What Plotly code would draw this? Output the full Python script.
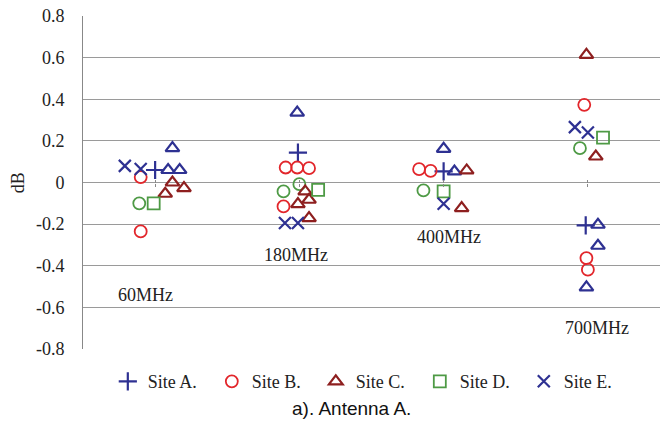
import plotly.graph_objects as go

# Category positions: 1=60MHz, 2=180MHz, 3=400MHz, 4=700MHz (x values include in-group jitter)
freq_labels = ["60MHz", "180MHz", "400MHz", "700MHz"]
freq_label_x = [0.93, 1.98, 3.04, 4.06]
freq_label_y = [-0.54, -0.35, -0.26, -0.70]

site_a_x = [1.00, 1.99, 3.00, 3.985]
site_a_y = [0.06, 0.144, 0.053, -0.206]

site_b_x = [0.90, 0.90, 1.905, 1.985, 2.067, 1.89, 2.83, 2.91, 3.975, 3.99, 4.00]
site_b_y = [0.026, -0.235, 0.072, 0.072, 0.069, -0.115, 0.064, 0.056, 0.373, -0.363, -0.419]

site_c_x = [1.12, 1.20, 1.07, 2.04, 2.067, 1.99, 2.067, 3.16, 3.125, 3.99, 4.055]
site_c_y = [0.0, -0.027, -0.054, -0.043, -0.083, -0.104, -0.171, 0.058, -0.123, 0.613, 0.125]

site_d_x = [0.99, 2.13, 3.00, 4.105]
site_d_y = [-0.10, -0.035, -0.043, 0.216]

site_e_x = [0.79, 0.90, 1.90, 1.99, 3.00, 3.91, 4.00]
site_e_y = [0.08, 0.065, -0.195, -0.195, -0.102, 0.266, 0.24]

# extra series shown without legend entries
blue_tri_x = [1.12, 1.09, 1.17, 1.985, 3.00, 3.075, 4.07, 4.07, 3.99]
blue_tri_y = [0.165, 0.06, 0.06, 0.336, 0.162, 0.053, -0.203, -0.304, -0.504]

green_circ_x = [0.89, 2.00, 1.89, 2.86, 3.945]
green_circ_y = [-0.10, -0.008, -0.043, -0.038, 0.165]

y_tickvals = [-0.8, -0.6, -0.4, -0.2, 0, 0.2, 0.4, 0.6, 0.8]
y_ticktext = ["-0.8", "-0.6", "-0.4", "-0.2", "0", "0.2", "0.4", "0.6", "0.8"]

BLUE = "#2E3192"
RED = "#E2262B"
DRED = "#8E1F1F"
GREEN = "#4E9A45"

serif = "Liberation Serif"

fig = go.Figure()

def add(x, y, name, symbol, color, size=12, lw=1.6, show=True):
    fig.add_trace(go.Scatter(
        x=x, y=y, mode="markers", name=name, showlegend=show,
        marker=dict(symbol=symbol, size=size, color=color,
                    line=dict(color=color, width=lw)),
    ))

add(blue_tri_x, blue_tri_y, "tri", "triangle-up-open", BLUE, size=12, lw=2.2, show=False)
add(green_circ_x, green_circ_y, "gc", "circle-open", GREEN, size=12, lw=1.8, show=False)
add(site_a_x, site_a_y, "Site A.", "cross-thin-open", BLUE, size=13, lw=2.2)
add(site_b_x, site_b_y, "Site B.", "circle-open", RED, size=12, lw=1.8)
add(site_c_x, site_c_y, "Site C.", "triangle-up-open", DRED, size=12, lw=2.2)
add(site_d_x, site_d_y, "Site D.", "square-open", GREEN, size=12, lw=1.8)
add(site_e_x, site_e_y, "Site E.", "x-thin-open", BLUE, size=12, lw=2.2)

for t, x, y in zip(freq_labels, freq_label_x, freq_label_y):
    fig.add_annotation(x=x, y=y, text=t, showarrow=False,
                       font=dict(family=serif, size=18, color="#222"))

fig.add_annotation(xref="paper", yref="paper", x=-0.113, y=0.5, xanchor="center",
                   text="dB", textangle=-90, showarrow=False,
                   font=dict(family=serif, size=18, color="#222"))

fig.add_annotation(xref="paper", yref="paper", x=0.465, y=-0.178, yanchor="middle",
                   xanchor="center", text="a). Antenna A.", showarrow=False,
                   font=dict(family="Liberation Sans", size=19, color="#111"))

fig.update_layout(
    width=666, height=428,
    margin=dict(l=83, r=6, t=16, b=79),
    paper_bgcolor="white", plot_bgcolor="white",
    xaxis=dict(range=[0.5, 4.5], tickvals=[1, 2, 3, 4], showticklabels=False,
               ticks="outside", ticklen=3, tickcolor="#888", tickwidth=1,
               showgrid=False, zeroline=False, showline=False,
               anchor="free", position=0.5),
    xaxis2=dict(range=[0.5, 4.5], tickvals=[1, 2, 3, 4], showticklabels=False,
                ticks="inside", ticklen=3, tickcolor="#888", tickwidth=1,
                showgrid=False, zeroline=False, showline=False,
                overlaying="x", anchor="free", position=0.5),
    yaxis=dict(range=[-0.8, 0.8], tickvals=y_tickvals, ticktext=y_ticktext,
               showgrid=True, gridcolor="#9a9a9a", gridwidth=1,
               zeroline=False, showline=True, linecolor="#888", linewidth=1,
               ticks="", ticklabelstandoff=14,
               tickfont=dict(family=serif, size=18, color="#222")),
    legend=dict(orientation="h", x=0.043, y=-0.098, xanchor="left", yanchor="middle",
                entrywidth=59, entrywidthmode="pixels",
                font=dict(family=serif, size=18, color="#222"),
                traceorder="normal"),
    showlegend=True,
)
# dummy trace to activate xaxis2 ticks
fig.add_trace(go.Scatter(x=[None], y=[None], xaxis="x2", showlegend=False, hoverinfo="skip"))

fig.write_html("out.html")
